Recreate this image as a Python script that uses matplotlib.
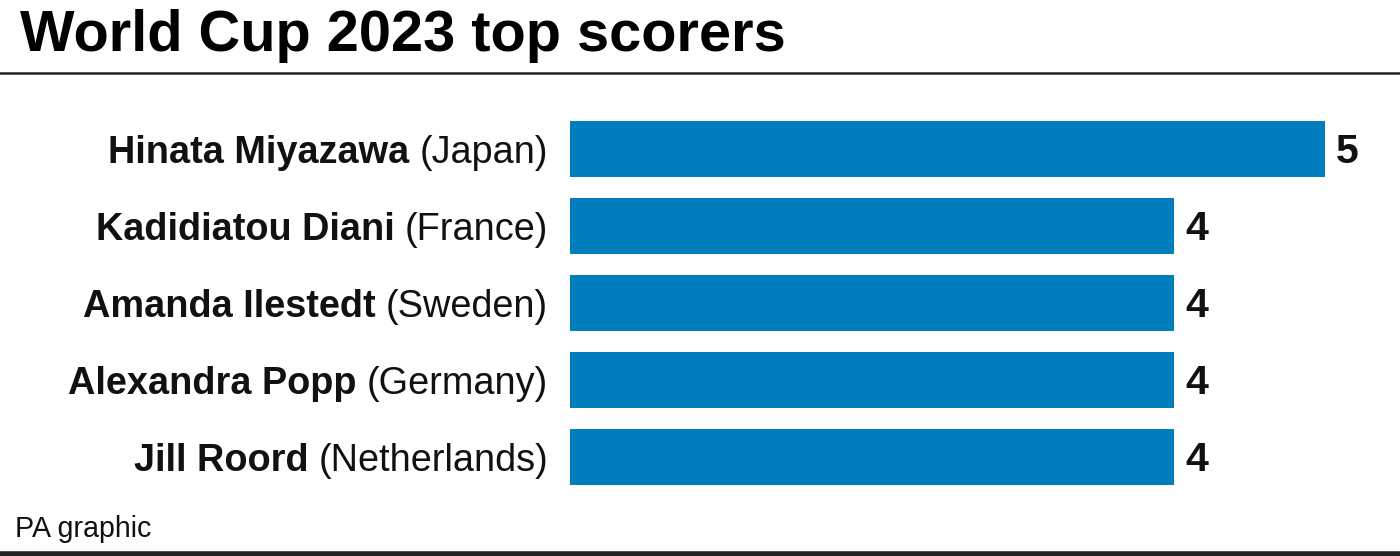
"""World Cup 2023 top scorers bar chart"""
import matplotlib
matplotlib.use('Agg')
import matplotlib.pyplot as plt

plt.rcParams['font.family'] = ['Liberation Sans', 'DejaVu Sans']

players = ['Hinata Miyazawa', 'Kadidiatou Diani', 'Amanda Ilestedt', 'Alexandra Popp', 'Jill Roord']
countries = ['Japan', 'France', 'Sweden', 'Germany', 'Netherlands']
goals = [5, 4, 4, 4, 4]

BLUE = '#007DBC'
INK = '#111111'
W, H = 1400, 556

fig = plt.figure(figsize=(W / 100, H / 100), dpi=100, facecolor='white')

# axes in pixel terms: bars start at x=570, 5 goals ends at x=1325
ax = fig.add_axes([570 / W, 1 - 495.5 / H, (1325 - 570) / W, 385 / H])
ypos = list(range(len(goals)))
ax.barh(ypos, goals, height=0.727, color=BLUE)
ax.set_xlim(0, 5)
ax.set_ylim(4.5, -0.5)
ax.axis('off')

renderer = fig.canvas.get_renderer()
for y, player, country, g in zip(ypos, players, countries, goals):
    # baseline sits 14px below the bar centre
    ax.annotate(str(g), (g, y), xytext=(11, -14), textcoords='offset pixels',
                fontsize=29.5, fontweight='bold', va='baseline', ha='left', color=INK)
    # country first, then the bold name to the left of it
    t = ax.annotate(f'({country})', (0, y), xytext=(-22, -14), textcoords='offset pixels',
                    fontsize=27.3, va='baseline', ha='right', color=INK)
    box = t.get_window_extent(renderer)
    ax.annotate(player, (0, y), xytext=(-22 - box.width - 10, -14), textcoords='offset pixels',
                fontsize=27.3, fontweight='bold', va='baseline', ha='right', color=INK)

fig.text(20 / W, 1 - 51 / H, 'World Cup 2023 top scorers', fontsize=41.6, fontweight='bold',
         va='baseline', ha='left', color='black')
fig.text(15 / W, 1 - 537 / H, 'PA graphic', fontsize=20.6, va='baseline', ha='left', color=INK)

# rules under the title and at the foot
fig.add_artist(plt.Line2D([0, 1], [1 - 72.5 / H] * 2, color='#222222', lw=1.8))
fig.add_artist(plt.Line2D([0, 1], [1 - 553.5 / H] * 2, color='#222222', lw=4))

fig.savefig('out.png', dpi=100)
